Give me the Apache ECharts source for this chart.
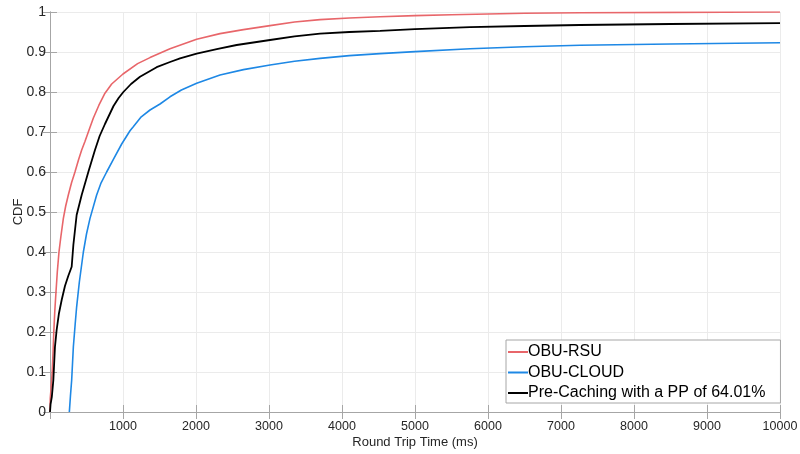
<!DOCTYPE html>
<html>
<head>
<meta charset="utf-8">
<script src="https://cdn.jsdelivr.net/npm/echarts@6/dist/echarts.min.js"></script>
<style>html,body{margin:0;padding:0;background:#fff;}#c{width:800px;height:454px;}</style>
</head>
<body>
<div id="c"></div>
<script>
const seriesNames = ['OBU-RSU', 'OBU-CLOUD', 'Pre-Caching with a PP of 64.01%'];
const xTicks = [0, 1000, 2000, 3000, 4000, 5000, 6000, 7000, 8000, 9000, 10000];
const yTicks = [0, 0.1, 0.2, 0.3, 0.4, 0.5, 0.6, 0.7, 0.8, 0.9, 1];

const rsu = [[0,0],[4,0.035],[15,0.06],[30,0.1],[42,0.15],[52,0.2],[65,0.25],[82,0.3],[100,0.35],[123,0.4],[150,0.44],[183,0.484],[215,0.515],[251,0.5425],[295,0.573],[342,0.6],[390,0.63],[434,0.655],[480,0.677],[525,0.7],[594,0.735],[670,0.767],[753,0.797],[845,0.82],[1000,0.845],[1200,0.871],[1370,0.886],[1644,0.908],[2009,0.932],[2329,0.946],[2650,0.956],[3014,0.966],[3350,0.975],[3699,0.981],[4100,0.985],[4521,0.988],[5000,0.991],[5500,0.993],[6000,0.995],[6500,0.997],[7260,0.998],[8500,0.999],[10000,1.0]];

const cloud = [[265,0],[280,0.04],[297,0.08],[320,0.163],[345,0.22],[365,0.263],[402,0.325],[457,0.4],[500,0.445],[548,0.484],[639,0.5425],[700,0.573],[776,0.6],[870,0.632],[982,0.67],[1096,0.703],[1141,0.713],[1250,0.738],[1370,0.755],[1507,0.77],[1644,0.788],[1800,0.805],[2009,0.822],[2329,0.8425],[2650,0.856],[3014,0.8675],[3350,0.877],[3699,0.884],[4100,0.891],[4521,0.896],[5000,0.901],[5753,0.908],[6500,0.913],[7260,0.917],[8500,0.92],[10000,0.923]];

const precache = [[0,0],[8,0.02],[14,0.026],[25,0.038],[46,0.08],[68,0.163],[91,0.205],[123,0.247],[160,0.28],[205,0.315],[250,0.34],[297,0.363],[320,0.4175],[365,0.4925],[434,0.5425],[525,0.6],[616,0.655],[680,0.69],[753,0.72],[870,0.765],[940,0.785],[1005,0.8],[1110,0.82],[1233,0.838],[1461,0.862],[1644,0.875],[1781,0.884],[2009,0.896],[2300,0.908],[2557,0.9175],[3014,0.93],[3350,0.939],[3699,0.946],[4100,0.95],[4521,0.953],[5000,0.957],[5753,0.962],[6500,0.965],[7260,0.9675],[8500,0.97],[10000,0.972]];

const colors = ['#E8666A', '#1E88E5', '#000000'];
const axisGray = '#a6a6a6';
const textCol = '#262626';
const font = 'Liberation Sans, Arial, sans-serif';

const chart = echarts.init(document.getElementById('c'), null, {renderer: 'canvas'});
const baseX = {
  type: 'value', min: xTicks[0], max: xTicks[xTicks.length - 1], interval: 1000,
  axisLine: {show: true, lineStyle: {color: axisGray, width: 1}},
  axisTick: {show: true, inside: true, length: 7, lineStyle: {color: axisGray}},
  splitLine: {show: false}
};
const baseY = {
  type: 'value', min: yTicks[0], max: yTicks[yTicks.length - 1], interval: 0.1,
  axisLine: {show: true, lineStyle: {color: axisGray, width: 1}},
  axisTick: {show: true, inside: true, length: 7, lineStyle: {color: axisGray}},
  splitLine: {show: false}
};
chart.setOption({
  animation: false,
  backgroundColor: '#fff',
  grid: {left: 50, right: 20, top: 12, bottom: 42, containLabel: false, outerBoundsMode: 'none'},
  legend: {
    show: true,
    data: seriesNames.map(n => ({name: n, icon: 'rect'})),
    orient: 'vertical',
    left: 506, top: 340,
    itemWidth: 20, itemHeight: 2, itemGap: 4.5,
    padding: [4, 15, 2, 2],
    borderColor: '#a6a6a6', borderWidth: 1, backgroundColor: '#fff',
    textStyle: {fontSize: 16, color: '#000', fontFamily: font, lineHeight: 16, padding: [0, 0, 0, -5]}
  },
  xAxis: [
    Object.assign({}, baseX, {
      position: 'bottom',
      name: 'Round Trip Time (ms)', nameLocation: 'middle', nameGap: 24, nameMoveOverlap: false,
      nameTextStyle: {fontSize: 13, color: textCol, fontFamily: font},
      axisLabel: {show: true, fontSize: 12.5, color: textCol, fontFamily: font, margin: 8,
        formatter: v => v === 0 ? '' : String(v)},
      splitLine: {show: true, lineStyle: {color: '#ebebeb', width: 1}}
    }),
    Object.assign({}, baseX, {position: 'top', axisLabel: {show: false}})
  ],
  yAxis: [
    Object.assign({}, baseY, {
      position: 'left',
      name: 'CDF', nameLocation: 'middle', nameGap: 25, nameMoveOverlap: false,
      nameTextStyle: {fontSize: 13, color: textCol, fontFamily: font},
      axisLabel: {show: true, fontSize: 14, color: textCol, fontFamily: font, margin: 4,
        formatter: v => String(Math.round(v * 10) / 10)},
      splitLine: {show: true, lineStyle: {color: '#ebebeb', width: 1}}
    }),
    Object.assign({}, baseY, {position: 'right', axisLabel: {show: false}})
  ],
  series: [
    {name: seriesNames[0], type: 'line', data: rsu, showSymbol: false, symbol: 'none',
     lineStyle: {color: colors[0], width: 1.6}, itemStyle: {color: colors[0]}, z: 3},
    {name: seriesNames[1], type: 'line', data: cloud, showSymbol: false, symbol: 'none',
     lineStyle: {color: colors[1], width: 1.6}, itemStyle: {color: colors[1]}, z: 3},
    {name: seriesNames[2], type: 'line', data: precache, showSymbol: false, symbol: 'none',
     lineStyle: {color: colors[2], width: 1.8}, itemStyle: {color: colors[2]}, z: 4}
  ]
});
</script>
</body>
</html>
